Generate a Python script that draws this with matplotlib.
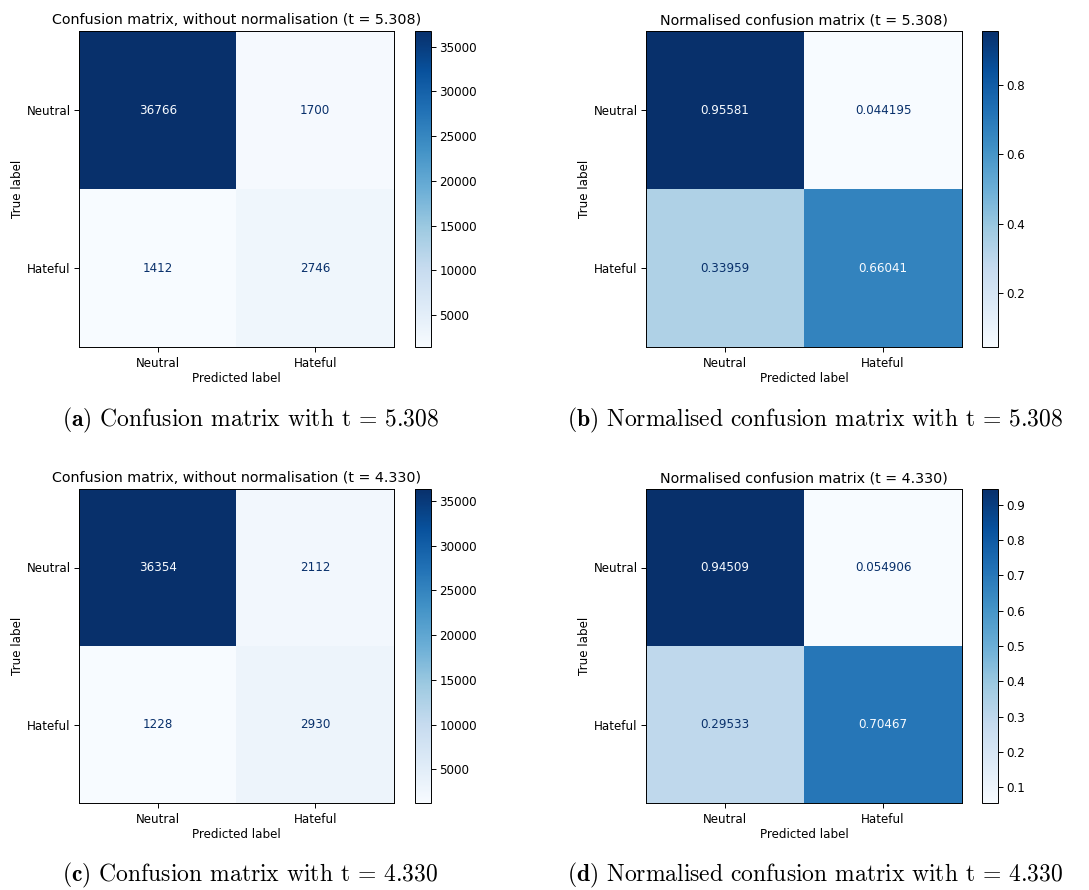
import numpy as np
import matplotlib
matplotlib.use('Agg')
import matplotlib.pyplot as plt

# labels and confusion matrices
class_labels = ['Neutral', 'Hateful']

cm_t5308 = np.array([[36766, 1700],
                     [1412, 2746]])
cm_t5308_norm = np.array([[0.95581, 0.044195],
                          [0.33959, 0.66041]])
cm_t4330 = np.array([[36354, 2112],
                     [1228, 2930]])
cm_t4330_norm = np.array([[0.94509, 0.054906],
                          [0.29533, 0.70467]])

titles = ['Confusion matrix, without normalisation (t = 5.308)',
          'Normalised confusion matrix (t = 5.308)',
          'Confusion matrix, without normalisation (t = 4.330)',
          'Normalised confusion matrix (t = 4.330)']
captions = [('a', 'Confusion matrix with t = 5.308'),
            ('b', 'Normalised confusion matrix with t = 5.308'),
            ('c', 'Confusion matrix with t = 4.330'),
            ('d', 'Normalised confusion matrix with t = 4.330')]

W, H = 1089, 890
plt.rcParams['font.family'] = 'DejaVu Sans'
plt.rcParams['font.size'] = 8.6
plt.rcParams['axes.linewidth'] = 0.7
plt.rcParams['xtick.major.width'] = 0.7
plt.rcParams['ytick.major.width'] = 0.7
plt.rcParams['ytick.major.pad'] = 2.5
plt.rcParams['mathtext.fontset'] = 'cm'

fig = plt.figure(figsize=(W / 100, H / 100), dpi=100)
cmap = plt.get_cmap('Blues')


def px_axes(x0, y0, x1, y1):
    return fig.add_axes([x0 / W, 1 - y1 / H, (x1 - x0) / W, (y1 - y0) / H])


# (axes box, colorbar box, caption position) in pixels
layout = [
    ((79, 31, 394, 347), (415, 31, 431, 347), (62, 420)),
    ((646, 31, 962, 347), (982, 31, 998, 347), (567, 420)),
    ((79, 489, 394, 803), (415, 489, 431, 803), (62, 875)),
    ((646, 489, 962, 803), (982, 489, 998, 803), (567, 875)),
]
mats = [cm_t5308, cm_t5308_norm, cm_t4330, cm_t4330_norm]

for cm, title, cap, (abox, cbox, cpos) in zip(mats, titles, captions, layout):
    ax = px_axes(*abox)
    cax = px_axes(*cbox)
    im = ax.imshow(cm, cmap=cmap, interpolation='nearest', aspect='auto')
    cb = fig.colorbar(im, cax=cax)
    cb.outline.set_linewidth(0.7)
    thresh = (cm.max() + cm.min()) / 2.0
    for i in range(2):
        for j in range(2):
            col = cmap(0.0) if cm[i, j] >= thresh else cmap(1.0)
            txt = format(cm[i, j], 'd') if cm.dtype.kind == 'i' else format(cm[i, j], 'g')
            ax.text(j, i, txt, ha='center', va='center', color=col)
    ax.set_xticks(range(2))
    ax.set_yticks(range(2))
    ax.set_xticklabels(class_labels)
    ax.set_yticklabels(class_labels)
    ax.set_xlabel('Predicted label', labelpad=1.5)
    ax.set_ylabel('True label', labelpad=1.5)
    ax.set_title(title, fontsize=10.3, pad=5)
    fig.text(cpos[0] / W, 1 - cpos[1] / H,
             r'$\mathbf{(%s)}$ ' % cap[0] + cap[1],
             family='cmr10', fontsize=17, ha='left', va='center')

fig.savefig('out.png', dpi=100)
